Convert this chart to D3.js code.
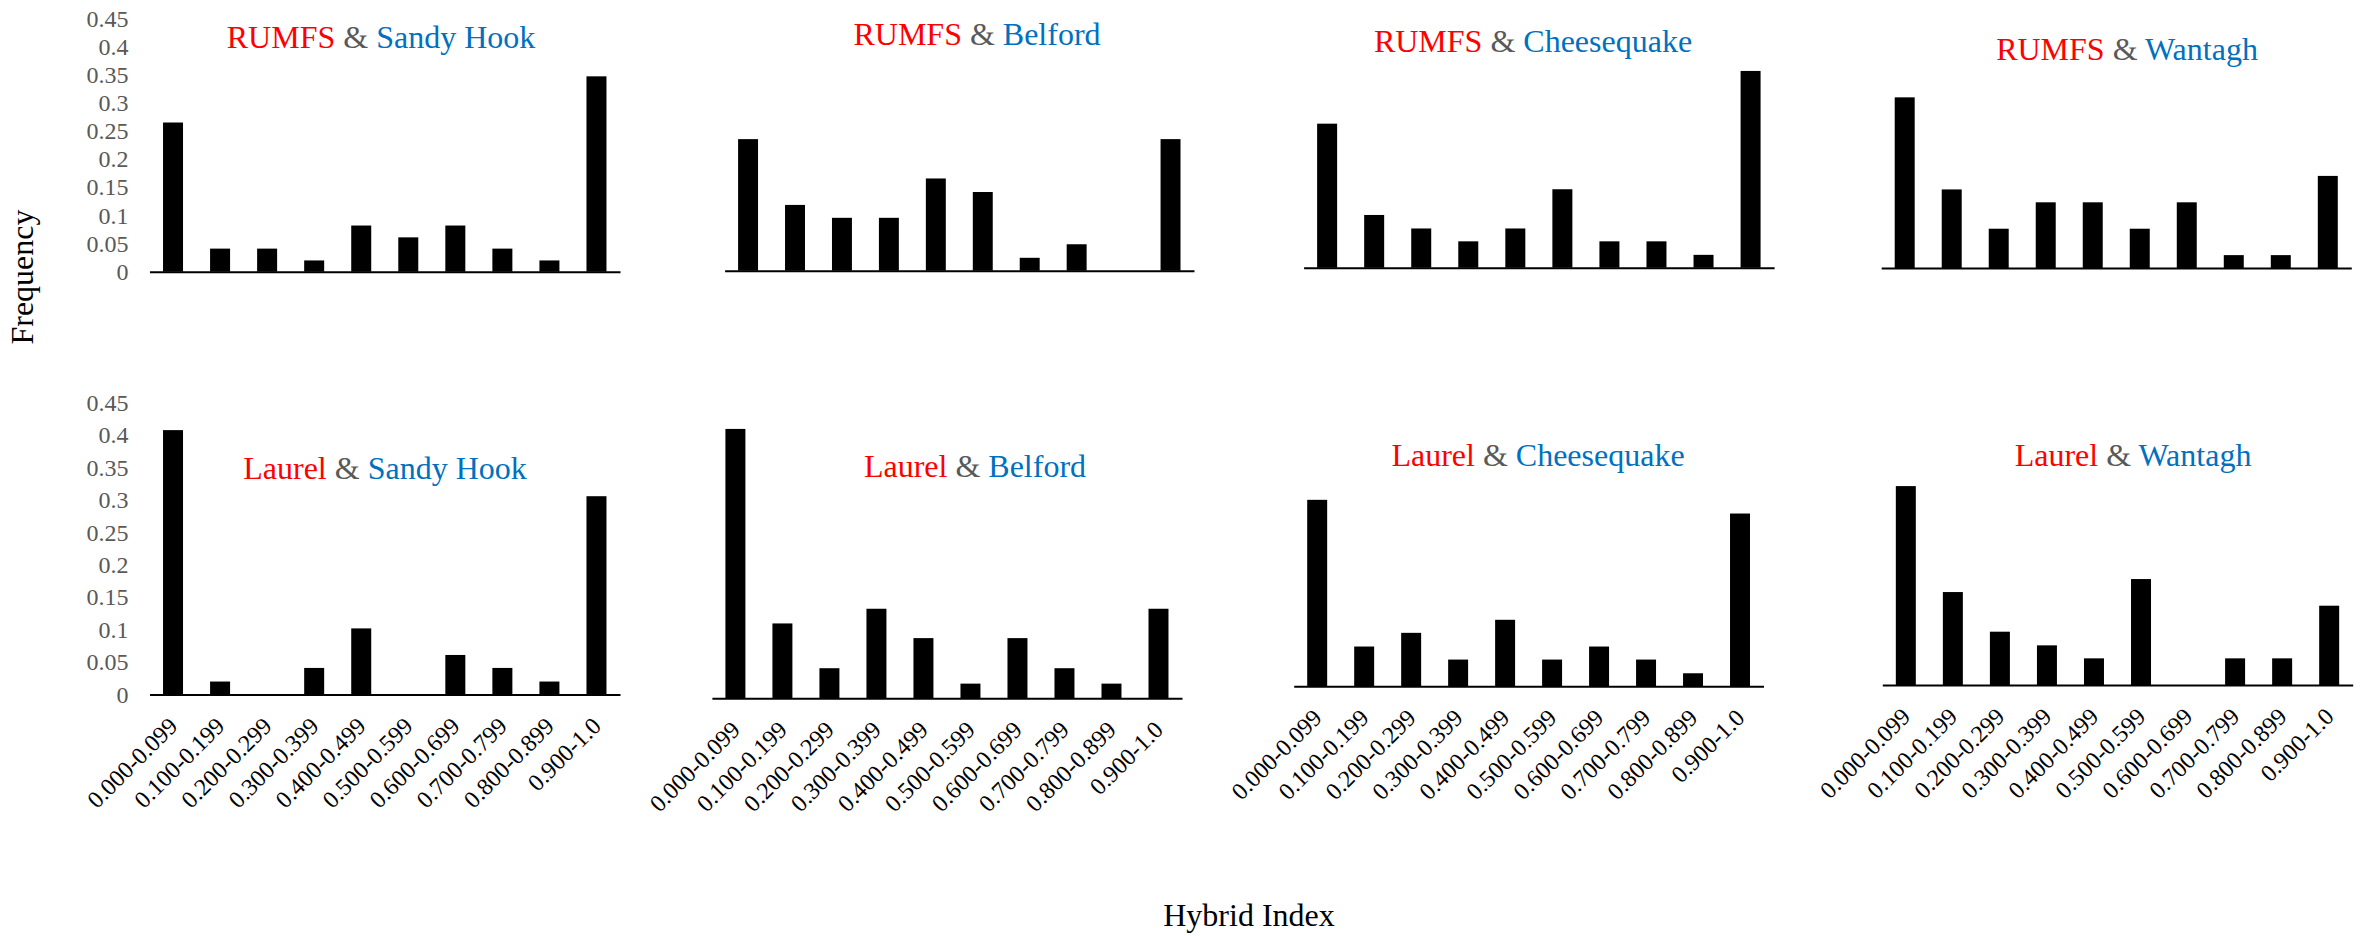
<!DOCTYPE html>
<html>
<head>
<meta charset="utf-8">
<script src="https://cdn.jsdelivr.net/npm/d3@7"></script>
<style>
  html, body { margin: 0; padding: 0; background: #ffffff; }
  svg { display: block; }
</style>
</head>
<body>
<svg id="chart" width="2366" height="936"></svg>
<script>
// Hybrid-index classes shared by every panel
const categories = [
  "0.000-0.099", "0.100-0.199", "0.200-0.299", "0.300-0.399", "0.400-0.499",
  "0.500-0.599", "0.600-0.699", "0.700-0.799", "0.800-0.899", "0.900-1.0"
];

// Frequencies per site pair
const rumfsSandyHook   = [0.265, 0.041, 0.041, 0.020, 0.082, 0.061, 0.082, 0.041, 0.020, 0.347];
const rumfsBelford     = [0.204, 0.102, 0.082, 0.082, 0.143, 0.122, 0.020, 0.041, 0.000, 0.204];
const rumfsCheesequake = [0.224, 0.082, 0.061, 0.041, 0.061, 0.122, 0.041, 0.041, 0.020, 0.306];
const rumfsWantagh     = [0.265, 0.122, 0.061, 0.102, 0.102, 0.061, 0.102, 0.020, 0.020, 0.143];
const laurelSandyHook   = [0.408, 0.020, 0.000, 0.041, 0.102, 0.000, 0.061, 0.041, 0.020, 0.306];
const laurelBelford     = [0.367, 0.102, 0.041, 0.122, 0.082, 0.020, 0.082, 0.041, 0.020, 0.122];
const laurelCheesequake = [0.286, 0.061, 0.082, 0.041, 0.102, 0.041, 0.061, 0.041, 0.020, 0.265];
const laurelWantagh     = [0.306, 0.143, 0.082, 0.061, 0.041, 0.163, 0.000, 0.041, 0.041, 0.122];

// Panel titles: first site (red) & second site (blue)
const firstSites  = ["RUMFS", "RUMFS", "RUMFS", "RUMFS", "Laurel", "Laurel", "Laurel", "Laurel"];
const secondSites = ["Sandy Hook", "Belford", "Cheesequake", "Wantagh",
                     "Sandy Hook", "Belford", "Cheesequake", "Wantagh"];

// Y tick values (drawn on the first panel of each row)
const yTicks = [0, 0.05, 0.1, 0.15, 0.2, 0.25, 0.3, 0.35, 0.4, 0.45];

const panelValues = [
  rumfsSandyHook, rumfsBelford, rumfsCheesequake, rumfsWantagh,
  laurelSandyHook, laurelBelford, laurelCheesequake, laurelWantagh
];

// Layout of each panel: plot x extent, baseline y, pixels per unit frequency,
// title centre / baseline, and whether it carries y labels / x labels.
const layout = [
  { x0: 149.5,  x1: 620,    base: 271.7, unit: 563,   tx: 381,  ty: 47.7,  yLab: true,  xLab: false },
  { x0: 724.6,  x1: 1194,   base: 270.7, unit: 645,   tx: 977,  ty: 45.3,  yLab: false, xLab: false },
  { x0: 1303.6, x1: 1774.1, base: 267.7, unit: 643,   tx: 1533, ty: 51.7,  yLab: false, xLab: false },
  { x0: 1881.2, x1: 2351.3, base: 268,   unit: 644,   tx: 2127, ty: 60,    yLab: false, xLab: false },
  { x0: 149.5,  x1: 620,    base: 694.5, unit: 648,   tx: 385,  ty: 479.3, yLab: true,  xLab: true },
  { x0: 711.9,  x1: 1182,   base: 698.3, unit: 734,   tx: 975,  ty: 477.3, yLab: false, xLab: true },
  { x0: 1293.7, x1: 1763.5, base: 686.3, unit: 652,   tx: 1538, ty: 466,   yLab: false, xLab: true },
  { x0: 1882.3, x1: 2352.7, base: 685,   unit: 650,   tx: 2133, ty: 466,   yLab: false, xLab: true }
];

const FONT = "'Liberation Serif', 'Times New Roman', serif";
const svg = d3.select("#chart");

svg.append("rect").attr("width", 2366).attr("height", 936).attr("fill", "#ffffff");

layout.forEach((L, i) => {
  const values = panelValues[i];
  const g = svg.append("g");

  const x = d3.scaleBand()
    .domain(categories)
    .range([L.x0, L.x1])
    .paddingInner(0.575)
    .paddingOuter(0.2875);

  const y = d3.scaleLinear()
    .domain([0, 0.45])
    .range([L.base, L.base - 0.45 * L.unit]);

  // bars
  g.append("g")
    .selectAll("rect")
    .data(values)
    .join("rect")
    .attr("x", (d, j) => x(categories[j]))
    .attr("width", x.bandwidth())
    .attr("y", d => y(d))
    .attr("height", d => y(0) - y(d))
    .attr("fill", "#000000");

  // category axis
  const xAxis = g.append("g")
    .attr("transform", `translate(0,${L.base})`)
    .call(d3.axisBottom(x).tickSize(0).tickSizeOuter(0).tickPadding(0));
  xAxis.select(".domain").attr("stroke", "#000000").attr("stroke-width", 2);
  if (L.xLab) {
    xAxis.selectAll(".tick text")
      .attr("font-family", FONT)
      .attr("font-size", 24)
      .attr("fill", "#000000")
      .attr("text-anchor", "end")
      .attr("dy", null)
      .attr("y", null)
      .attr("transform", "translate(6,33) rotate(-45)");
  } else {
    xAxis.selectAll(".tick text").remove();
  }

  // value axis labels
  if (L.yLab) {
    const yAxis = g.append("g")
      .attr("transform", "translate(128.5,0)")
      .call(d3.axisLeft(y).tickValues(yTicks).tickSize(0).tickPadding(0)
        .tickFormat(d3.format("~g")));
    yAxis.select(".domain").remove();
    yAxis.selectAll(".tick text")
      .attr("font-family", FONT)
      .attr("font-size", 24)
      .attr("fill", "#595959");
  }

  // title
  const title = g.append("text")
    .attr("x", L.tx)
    .attr("y", L.ty)
    .attr("text-anchor", "middle")
    .attr("font-family", FONT)
    .attr("font-size", 32);
  title.append("tspan").attr("fill", "#ff0000").text(firstSites[i]);
  title.append("tspan").attr("fill", "#595959").text(" & ");
  title.append("tspan").attr("fill", "#0070c0").text(secondSites[i]);
});

// shared axis titles
svg.append("text")
  .attr("transform", "translate(33,277) rotate(-90)")
  .attr("text-anchor", "middle")
  .attr("font-family", FONT)
  .attr("font-size", 32)
  .attr("fill", "#000000")
  .text("Frequency");

svg.append("text")
  .attr("x", 1249)
  .attr("y", 926)
  .attr("text-anchor", "middle")
  .attr("font-family", FONT)
  .attr("font-size", 32)
  .attr("fill", "#000000")
  .text("Hybrid Index");
</script>
</body>
</html>
